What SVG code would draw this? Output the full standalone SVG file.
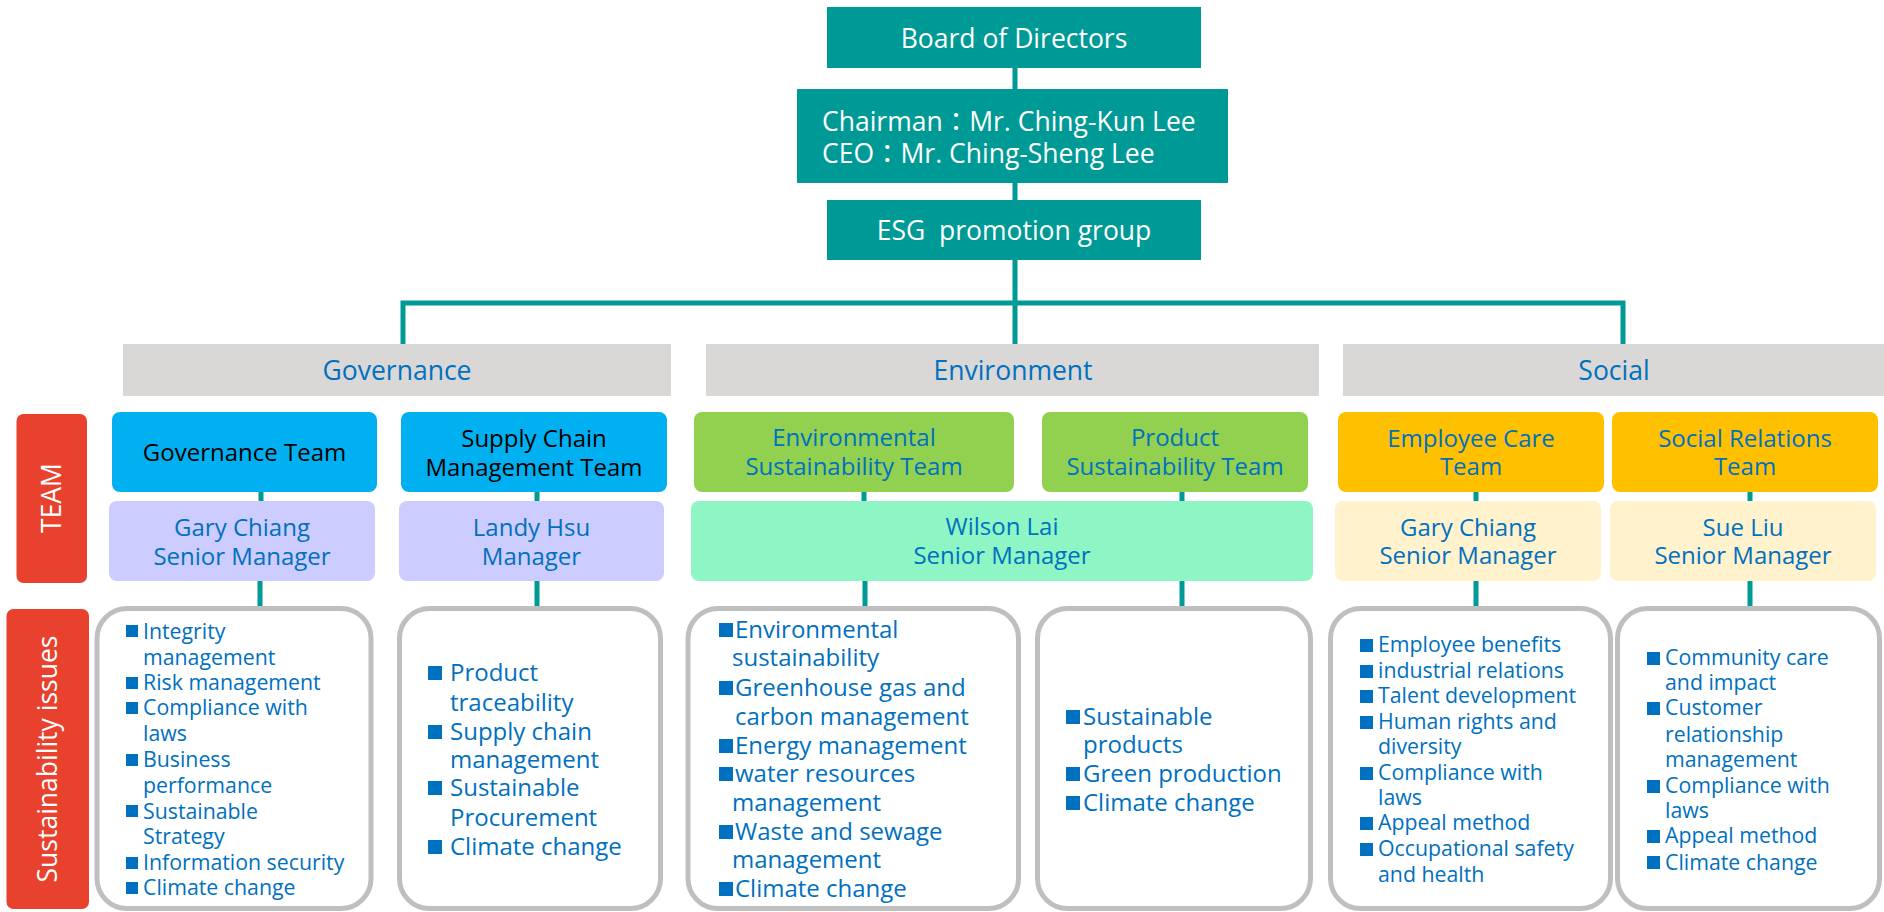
<svg xmlns="http://www.w3.org/2000/svg" width="1884" height="912" viewBox="0 0 1884 912">
<style>
text{font-family:"Open Sans","Noto Sans","Noto Sans CJK TC",sans-serif}
.top{fill:#009A96}
.tw{fill:#fff;font-size:26.5px}
.bar{fill:#D9D8D6}
.bt{fill:#0070C0;font-size:26.5px;text-anchor:middle}
.tb{font-size:24px;text-anchor:middle}
.blk{fill:#000}
.blu{fill:#0070C0}
.iss{fill:#fff;stroke:#BFBFBF;stroke-width:5}
.s{font-size:21.3px;fill:#0070C0}
.l{font-size:24px;fill:#0070C0}
.b{fill:#0070C0}
.side{fill:#E8412E}
.sl{fill:#fff;font-size:26.5px;text-anchor:middle}
</style>
<g id="connectors" fill="none" stroke="#009A96" stroke-width="5">
<path d="M1015 68V89M1015 183V200M1015 260V344M403 344V303H1623V344"/>
<path d="M261 492V501M537 492V501M864 492V501M1182 492V501M1476 492V501M1750 492V501"/>
<path d="M260 581V606M537 581V606M865 581V606M1182 581V606M1476 581V606M1750 581V606"/>
</g>
<g id="board"><rect class="top" x="827" y="7" width="374" height="61"/><text class="tw" x="1014" y="48" text-anchor="middle">Board of Directors</text></g>
<g id="chairman"><rect class="top" x="797" y="89" width="431" height="94"/><text class="tw" x="822" y="131">Chairman：Mr. Ching-Kun Lee</text><text class="tw" x="822" y="163">CEO：Mr. Ching-Sheng Lee</text></g>
<g id="esg"><rect class="top" x="827" y="200" width="374" height="60"/><text class="tw" x="1014" y="240" text-anchor="middle" xml:space="preserve">ESG  promotion group</text></g>

<g id="governance"><rect class="bar" x="123" y="344" width="548" height="52"/><text class="bt" x="397" y="380">Governance</text></g>
<g id="environment"><rect class="bar" x="706" y="344" width="613" height="52"/><text class="bt" x="1013" y="380">Environment</text></g>
<g id="social"><rect class="bar" x="1343" y="344" width="541" height="52"/><text class="bt" x="1614" y="380">Social</text></g>

<g id="team-label"><rect class="side" x="16.5" y="414" width="70.5" height="169" rx="7"/><text class="sl" transform="translate(61 498) rotate(-90)">TEAM</text></g>
<g id="issues-label"><rect class="side" x="6.5" y="609" width="82.5" height="300" rx="7"/><text class="sl" transform="translate(57 759) rotate(-90)">Sustainability issues</text></g>

<g id="governance-team"><rect x="112" y="412" width="265" height="80" rx="8" fill="#00B0F0"/><text class="tb blk" x="244.5" y="461">Governance Team</text></g>
<g id="supply-team"><rect x="401" y="412" width="266" height="80" rx="8" fill="#00B0F0"/><text class="tb blk" x="534" y="447">Supply Chain</text><text class="tb blk" x="534" y="476">Management Team</text></g>
<g id="gary1"><rect x="109" y="501" width="266" height="80" rx="8" fill="#CCCCFF"/><text class="tb blu" x="242" y="536">Gary Chiang</text><text class="tb blu" x="242" y="565">Senior Manager</text></g>
<g id="landy"><rect x="399" y="501" width="265" height="80" rx="8" fill="#CCCCFF"/><text class="tb blu" x="531.5" y="536">Landy Hsu</text><text class="tb blu" x="531.5" y="565">Manager</text></g>

<g id="env-team"><rect x="694" y="412" width="320" height="80" rx="8" fill="#92D050"/><text class="tb blu" x="854" y="446">Environmental</text><text class="tb blu" x="854" y="475">Sustainability Team</text></g>
<g id="product-team"><rect x="1042" y="412" width="266" height="80" rx="8" fill="#92D050"/><text class="tb blu" x="1175" y="446">Product</text><text class="tb blu" x="1175" y="475">Sustainability Team</text></g>
<g id="wilson"><rect x="691" y="501" width="622" height="80" rx="8" fill="#8EF5C5"/><text class="tb blu" x="1002" y="535">Wilson Lai</text><text class="tb blu" x="1002" y="564">Senior Manager</text></g>

<g id="employee-team"><rect x="1338" y="412" width="266" height="80" rx="8" fill="#FFC000"/><text class="tb blu" x="1471" y="447">Employee Care</text><text class="tb blu" x="1471" y="475">Team</text></g>
<g id="social-team"><rect x="1612" y="412" width="266" height="80" rx="8" fill="#FFC000"/><text class="tb blu" x="1745" y="447">Social Relations</text><text class="tb blu" x="1745" y="475">Team</text></g>
<g id="gary2"><rect x="1335" y="501" width="266" height="80" rx="8" fill="#FFF2CC"/><text class="tb blu" x="1468" y="536">Gary Chiang</text><text class="tb blu" x="1468" y="564">Senior Manager</text></g>
<g id="sue"><rect x="1610" y="501" width="266" height="80" rx="8" fill="#FFF2CC"/><text class="tb blu" x="1743" y="536">Sue Liu</text><text class="tb blu" x="1743" y="564">Senior Manager</text></g>

<g id="issues-governance"><rect class="iss" x="97" y="608.5" width="274" height="300" rx="30"/>
<rect class="b" x="126" y="625" width="12" height="12"/><rect class="b" x="126" y="677" width="12" height="12"/><rect class="b" x="126" y="702" width="12" height="12"/><rect class="b" x="126" y="754" width="12" height="12"/><rect class="b" x="126" y="805" width="12" height="12"/><rect class="b" x="126" y="857" width="12" height="12"/><rect class="b" x="126" y="882" width="12" height="12"/>
<text class="s" x="143" y="639">Integrity</text><text class="s" x="143" y="665">management</text><text class="s" x="143" y="690">Risk management</text><text class="s" x="143" y="715">Compliance with</text><text class="s" x="143" y="741">laws</text><text class="s" x="143" y="767">Business</text><text class="s" x="143" y="793">performance</text><text class="s" x="143" y="819">Sustainable</text><text class="s" x="143" y="844">Strategy</text><text class="s" x="143" y="870">Information security</text><text class="s" x="143" y="895">Climate change</text></g>

<g id="issues-supply"><rect class="iss" x="399.5" y="608.5" width="261" height="300" rx="30"/>
<rect class="b" x="428" y="666" width="14" height="14"/><rect class="b" x="428" y="725" width="14" height="14"/><rect class="b" x="428" y="781" width="14" height="14"/><rect class="b" x="428" y="840" width="14" height="14"/>
<text class="l" x="450" y="681">Product</text><text class="l" x="450" y="711">traceability</text><text class="l" x="450" y="740">Supply chain</text><text class="l" x="450" y="768">management</text><text class="l" x="450" y="796">Sustainable</text><text class="l" x="450" y="826">Procurement</text><text class="l" x="450" y="855">Climate change</text></g>

<g id="issues-env"><rect class="iss" x="688" y="608.5" width="330.5" height="300" rx="30"/>
<rect class="b" x="719" y="623" width="14" height="14"/><rect class="b" x="719" y="681" width="14" height="14"/><rect class="b" x="719" y="739" width="14" height="14"/><rect class="b" x="719" y="767" width="14" height="14"/><rect class="b" x="719" y="825" width="14" height="14"/><rect class="b" x="719" y="882" width="14" height="14"/>
<text class="l" x="735" y="638">Environmental</text><text class="l" x="732" y="666">sustainability</text><text class="l" x="735" y="696">Greenhouse gas and</text><text class="l" x="735" y="725">carbon management</text><text class="l" x="735" y="754">Energy management</text><text class="l" x="735" y="782">water resources</text><text class="l" x="732" y="811">management</text><text class="l" x="735" y="840">Waste and sewage</text><text class="l" x="732" y="868">management</text><text class="l" x="735" y="897">Climate change</text></g>

<g id="issues-product"><rect class="iss" x="1037.5" y="608.5" width="273" height="300" rx="30"/>
<rect class="b" x="1066" y="710" width="14" height="14"/><rect class="b" x="1066" y="767" width="14" height="14"/><rect class="b" x="1066" y="796" width="14" height="14"/>
<text class="l" x="1083" y="725">Sustainable</text><text class="l" x="1083" y="753">products</text><text class="l" x="1083" y="782">Green production</text><text class="l" x="1083" y="811">Climate change</text></g>

<g id="issues-employee"><rect class="iss" x="1330.5" y="608.5" width="280" height="300" rx="30"/>
<rect class="b" x="1360" y="639" width="13" height="13"/><rect class="b" x="1360" y="665" width="13" height="13"/><rect class="b" x="1360" y="690" width="13" height="13"/><rect class="b" x="1360" y="716" width="13" height="13"/><rect class="b" x="1360" y="767" width="13" height="13"/><rect class="b" x="1360" y="817" width="13" height="13"/><rect class="b" x="1360" y="843" width="13" height="13"/>
<text class="s" x="1378" y="652">Employee benefits</text><text class="s" x="1378" y="678">industrial relations</text><text class="s" x="1378" y="703">Talent development</text><text class="s" x="1378" y="729">Human rights and</text><text class="s" x="1378" y="754">diversity</text><text class="s" x="1378" y="780">Compliance with</text><text class="s" x="1378" y="805">laws</text><text class="s" x="1378" y="830">Appeal method</text><text class="s" x="1378" y="856">Occupational safety</text><text class="s" x="1378" y="882">and health</text></g>

<g id="issues-social"><rect class="iss" x="1617.5" y="608.5" width="262" height="300" rx="30"/>
<rect class="b" x="1647" y="652" width="13" height="13"/><rect class="b" x="1647" y="702" width="13" height="13"/><rect class="b" x="1647" y="780" width="13" height="13"/><rect class="b" x="1647" y="830" width="13" height="13"/><rect class="b" x="1647" y="856" width="13" height="13"/>
<text class="s" x="1665" y="665">Community care</text><text class="s" x="1665" y="690">and impact</text><text class="s" x="1665" y="715">Customer</text><text class="s" x="1665" y="742">relationship</text><text class="s" x="1665" y="767">management</text><text class="s" x="1665" y="793">Compliance with</text><text class="s" x="1665" y="818">laws</text><text class="s" x="1665" y="843">Appeal method</text><text class="s" x="1665" y="870">Climate change</text></g>
</svg>
